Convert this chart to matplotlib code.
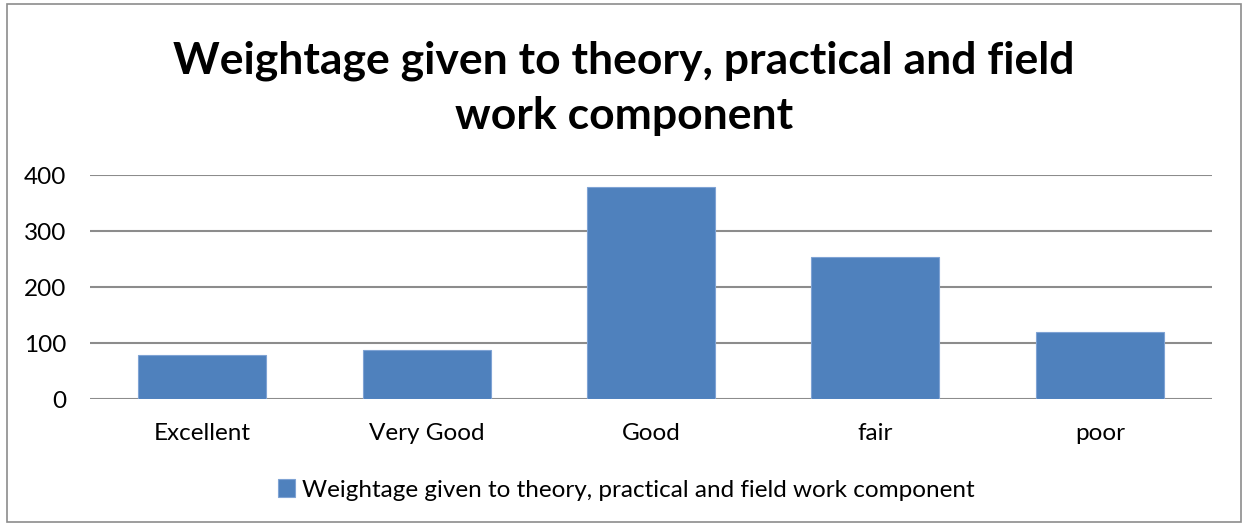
import matplotlib.pyplot as plt
from matplotlib.patches import Rectangle

# chart data
categories = ['Excellent', 'Very Good', 'Good', 'fair', 'poor']
values = [78, 88, 378, 254, 120]
yticks = [0, 100, 200, 300, 400]
series_name = 'Weightage given to theory, practical and field work component'
title = 'Weightage given to theory, practical and field\nwork component'

plt.rcParams['font.family'] = ['Lato', 'DejaVu Sans']

fig = plt.figure(figsize=(12.48, 5.26), dpi=100)
W, H = 1248, 526

# outer chart border
fig.patches.append(Rectangle((7 / W, 4 / H), (1241 - 7) / W, (522 - 4) / H,
                             transform=fig.transFigure, fill=False,
                             edgecolor='#8c8c8c', linewidth=1.2))

ax = fig.add_axes([90 / W, 1 - 399 / H, (1212 - 90) / W, (399 - 175) / H])
x = range(len(categories))
bars = ax.bar(x, values, width=0.57, color='#4f81bd', edgecolor='#7fa3d4',
              linewidth=0.8, label=series_name, zorder=3)

ax.set_ylim(0, 400)
ax.set_xlim(-0.5, len(categories) - 0.5)
ax.set_yticks(yticks)
ax.set_xticks(list(x))
ax.set_xticklabels(categories)
ax.tick_params(axis='both', length=0, labelsize=17.5, colors='black')
ax.tick_params(axis='y', pad=17)
ax.tick_params(axis='x', pad=17)
ax.yaxis.grid(True, color='#8c8c8c', linewidth=1.5, zorder=0)
for s in ax.spines.values():
    s.set_visible(False)

fig.text(624 / W, 1 - 88 / H, title, ha='center', va='center',
         fontsize=32, fontweight='bold', linespacing=1.45)

fig.legend(handles=[bars], labels=[series_name], loc='center',
           bbox_to_anchor=(626 / W, 1 - 490 / H), frameon=False,
           fontsize=17.5, handlelength=0.7, handleheight=0.7, handletextpad=0.3)

fig.savefig('out.png', dpi=100)
